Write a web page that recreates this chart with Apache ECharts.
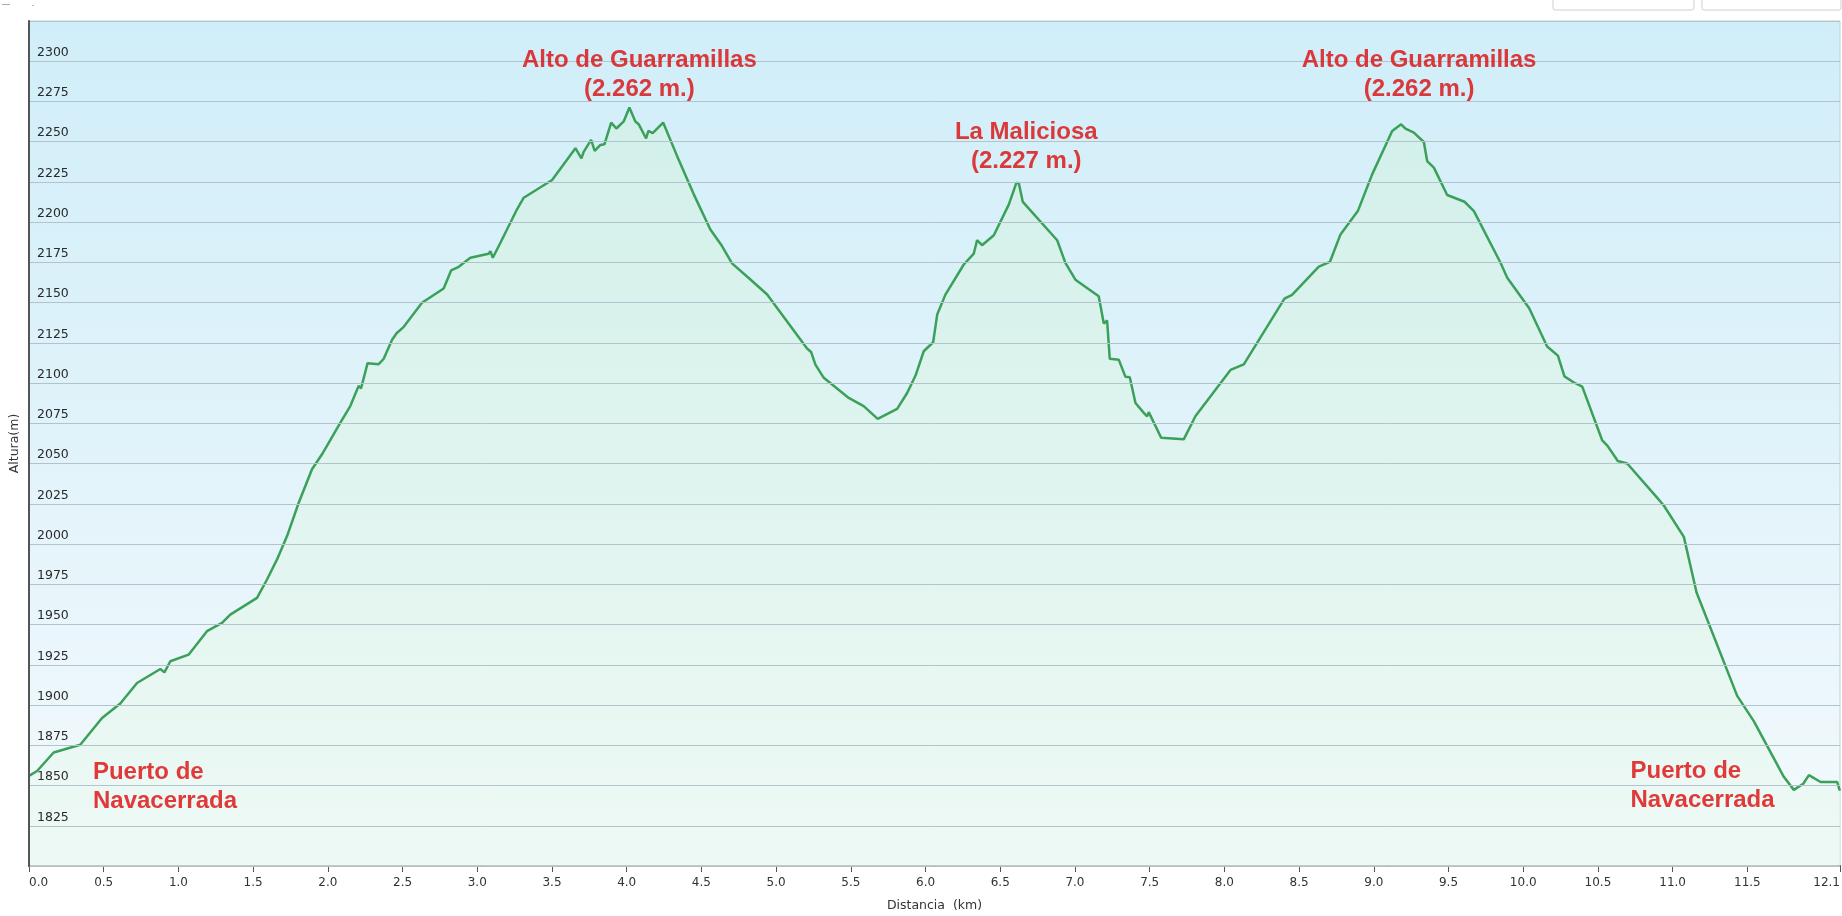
<!DOCTYPE html>
<html>
<head>
<meta charset="utf-8">
<script src="https://cdn.jsdelivr.net/npm/echarts@6/dist/echarts.min.js"></script>
<style>
html,body{margin:0;padding:0;background:#fff;}
#chart{width:1842px;height:916px;}
</style>
</head>
<body>
<div id="chart"></div>
<script>
// Distance (km) along the route
const distanceKm = [
  0.000, 0.054, 0.165, 0.343, 0.489, 0.611, 0.723, 0.879, 0.906, 0.946,
  1.068, 1.191, 1.292, 1.347, 1.526, 1.593, 1.660, 1.727, 1.805, 1.894,
  1.961, 2.084, 2.151, 2.206, 2.222, 2.266, 2.340, 2.373, 2.430, 2.460,
  2.508, 2.630, 2.775, 2.825, 2.876, 2.954, 3.076, 3.088, 3.104, 3.155,
  3.266, 3.311, 3.501, 3.657, 3.697, 3.712, 3.725, 3.762, 3.786, 3.824,
  3.851, 3.896, 3.931, 3.980, 4.018, 4.058, 4.080, 4.130, 4.145, 4.174,
  4.244, 4.337, 4.449, 4.560, 4.638, 4.705, 4.828, 4.940, 5.207, 5.234,
  5.263, 5.319, 5.486, 5.586, 5.680, 5.810, 5.877, 5.933, 5.944, 5.988,
  6.051, 6.078, 6.133, 6.256, 6.323, 6.345, 6.378, 6.457, 6.557, 6.608,
  6.624, 6.651, 6.881, 6.936, 7.003, 7.159, 7.193, 7.215, 7.233, 7.293,
  7.338, 7.367, 7.405, 7.461, 7.483, 7.494, 7.577, 7.728, 7.807, 8.041,
  8.130, 8.402, 8.453, 8.632, 8.706, 8.777, 8.893, 8.989, 9.123, 9.183,
  9.212, 9.268, 9.335, 9.357, 9.402, 9.491, 9.607, 9.670, 9.848, 9.893,
  10.040, 10.160, 10.232, 10.276, 10.339, 10.395, 10.529, 10.566, 10.633, 10.696,
  10.897, 10.942, 11.075, 11.160, 11.432, 11.543, 11.744, 11.811, 11.874, 11.912,
  11.990, 12.101, 12.119
];
// Altitude (m)
const altitudeM = [
  1856, 1859, 1870.5, 1875.3, 1892, 1901, 1913.7, 1922.4, 1920.3, 1927.2,
  1931.3, 1945.9, 1951, 1956.2, 1966.6, 1978, 1990.5, 2005, 2025.7, 2046.5,
  2055.8, 2075.5, 2085.9, 2098.3, 2096.7, 2112.4, 2111.8, 2115, 2127, 2131,
  2135, 2149.9, 2158.8, 2170, 2172.3, 2177.9, 2180.4, 2182, 2177.9, 2187.2,
  2208, 2215.2, 2226.2, 2246, 2239.7, 2243.7, 2242.6, 2251.1, 2244.3, 2248,
  2248.4, 2261.9, 2258.2, 2262.6, 2271.3, 2262.6, 2260.9, 2252, 2256.7, 2255.3,
  2261.9, 2241.2, 2217.3, 2195.5, 2185.2, 2174.4, 2164.4, 2155.1, 2121.5, 2119.4,
  2111.5, 2103.3, 2090.8, 2085.7, 2077.8, 2084, 2093.9, 2104.7, 2104.3, 2119.8,
  2125.4, 2142.6, 2155, 2173.7, 2180.5, 2188.8, 2185.7, 2191.9, 2210.9, 2224.4,
  2224.4, 2212.6, 2188.8, 2174.7, 2164.3, 2154, 2137, 2138.9, 2115.1, 2114.6,
  2103.9, 2103.7, 2087.7, 2081.5, 2079.4, 2082, 2066.1, 2065.1, 2079.6, 2108.2,
  2111.7, 2152.5, 2154.8, 2172.4, 2175.3, 2192.4, 2206.9, 2229.7, 2256.6, 2260.8,
  2258.1, 2255.6, 2249.8, 2238, 2233.9, 2216.9, 2212.7, 2206.9, 2174.8, 2165.5,
  2146.5, 2122.8, 2117.1, 2104.2, 2100.4, 2097.8, 2064.4, 2060.8, 2051.6, 2050.1,
  2028.7, 2023.8, 2004.5, 1969.9, 1905.7, 1890, 1855.4, 1847.3, 1851.1, 1856.5,
  1852.2, 1852.2, 1846.8
];
// X tick positions (last one is the route end, shown as 12.1)
const xTickValues = [0,0.5,1,1.5,2,2.5,3,3.5,4,4.5,5,5.5,6,6.5,7,7.5,8,8.5,9,9.5,10,10.5,11,11.5,12.12];
const xMax = 12.12;
const yMin = 1800, yMax = 2325, yStep = 25;

// Annotation texts with their anchor in data units [km, m]
const annoTexts = ['Alto de Guarramillas\n(2.262 m.)', 'La Maliciosa\n(2.227 m.)', 'Alto de Guarramillas\n(2.262 m.)', 'Puerto de\nNavacerrada', 'Puerto de\nNavacerrada'];
const annoKm = [4.085, 6.674, 9.303, 0.428, 10.718];
const annoAlt = [2291.8, 2246.8, 2291.5, 1848.9, 1849.8];
const annoAlign = ['center', 'center', 'center', 'left', 'left'];

const chart = echarts.init(document.getElementById('chart'), null, {renderer: 'canvas'});

const lineData = distanceKm.map((d, i) => [d, altitudeM[i]]);
const annoData = annoTexts.map((t, i) => ({
  value: [annoKm[i], annoAlt[i]],
  label: {align: annoAlign[i]},
  name: t
}));

const option = {
  backgroundColor: '#ffffff',
  animation: false,
  grid: {
    left: 29, right: 2, top: 21, bottom: 50,
    outerBoundsMode: 'none',
    containLabel: false,
    show: true,
    backgroundColor: {
      type: 'linear', x: 0, y: 0, x2: 0, y2: 1,
      colorStops: [
        {offset: 0, color: '#d0eef9'},
        {offset: 0.5, color: '#e1f3fa'},
        {offset: 1, color: '#f4fafc'}
      ]
    },
    borderColor: '#c4cfd4',
    borderWidth: 1
  },
  xAxis: {
    type: 'value',
    min: 0, max: xMax,
    name: 'Distancia  (km)',
    nameLocation: 'middle',
    nameGap: 33,
    nameTextStyle: {fontFamily: 'DejaVu Sans', fontSize: 12.5, color: '#333'},
    axisLine: {show: true, onZero: false, lineStyle: {color: '#555', width: 2}},
    axisTick: {show: true, length: 6, customValues: xTickValues, lineStyle: {color: '#555', width: 1}},
    axisLabel: {
      customValues: xTickValues,
      margin: 11,
      alignMinLabel: 'left',
      alignMaxLabel: 'right',
      hideOverlap: false,
      fontFamily: 'DejaVu Sans', fontSize: 12, color: '#333',
      formatter: v => v.toFixed(1)
    },
    splitLine: {show: false}
  },
  yAxis: {
    type: 'value',
    min: yMin, max: yMax, interval: yStep,
    z: 5,
    name: 'Altura(m)',
    nameLocation: 'middle',
    nameGap: 5,
    nameRotate: 90,
    nameTextStyle: {fontFamily: 'DejaVu Sans', fontSize: 12.5, color: '#333'},
    axisLine: {show: true, lineStyle: {color: '#555', width: 2}},
    axisTick: {show: false},
    axisLabel: {
      inside: true,
      margin: 8,
      showMinLabel: false,
      showMaxLabel: false,
      verticalAlign: 'bottom',
      padding: [0, 0, 2, 0],
      fontFamily: 'DejaVu Sans', fontSize: 12.5, color: '#2a2a2a',
      formatter: v => String(v)
    },
    splitLine: {show: true, lineStyle: {color: '#b3c3cb', width: 1}}
  },
  series: [
    {
      type: 'line',
      data: lineData,
      showSymbol: false,
      symbol: 'none',
      lineStyle: {color: '#3ba05a', width: 2.5},
      areaStyle: {
        origin: 'start',
        color: {
          type: 'linear', x: 0, y: 0, x2: 0, y2: 1,
          colorStops: [
            {offset: 0, color: '#d2f0e3'},
            {offset: 1, color: '#ecf9f2'}
          ]
        }
      },
      z: 2
    },
    {
      type: 'scatter',
      data: annoData,
      symbolSize: 0,
      silent: true,
      z: 6,
      label: {
        show: true,
        position: 'inside',
        formatter: p => p.name,
        fontFamily: 'Liberation Sans',
        fontWeight: 'bold',
        fontSize: 24,
        lineHeight: 29,
        color: '#dc0a0a'
      }
    }
  ],
  graphic: [
    {type: 'rect', shape: {x: 1553, y: -6, width: 141, height: 16, r: 2}, style: {fill: '#fff', stroke: '#cfcfcf', lineWidth: 1}},
    {type: 'rect', shape: {x: 1702, y: -6, width: 139, height: 16, r: 2}, style: {fill: '#fff', stroke: '#cfcfcf', lineWidth: 1}},
    {type: 'line', shape: {x1: 2, y1: 4.5, x2: 10, y2: 4.5}, style: {stroke: '#aaa', lineWidth: 1}},
    {type: 'line', shape: {x1: 32, y1: 5.5, x2: 34, y2: 5.5}, style: {stroke: '#bbb', lineWidth: 1}}
  ]
};
chart.setOption(option);
</script>
</body>
</html>
